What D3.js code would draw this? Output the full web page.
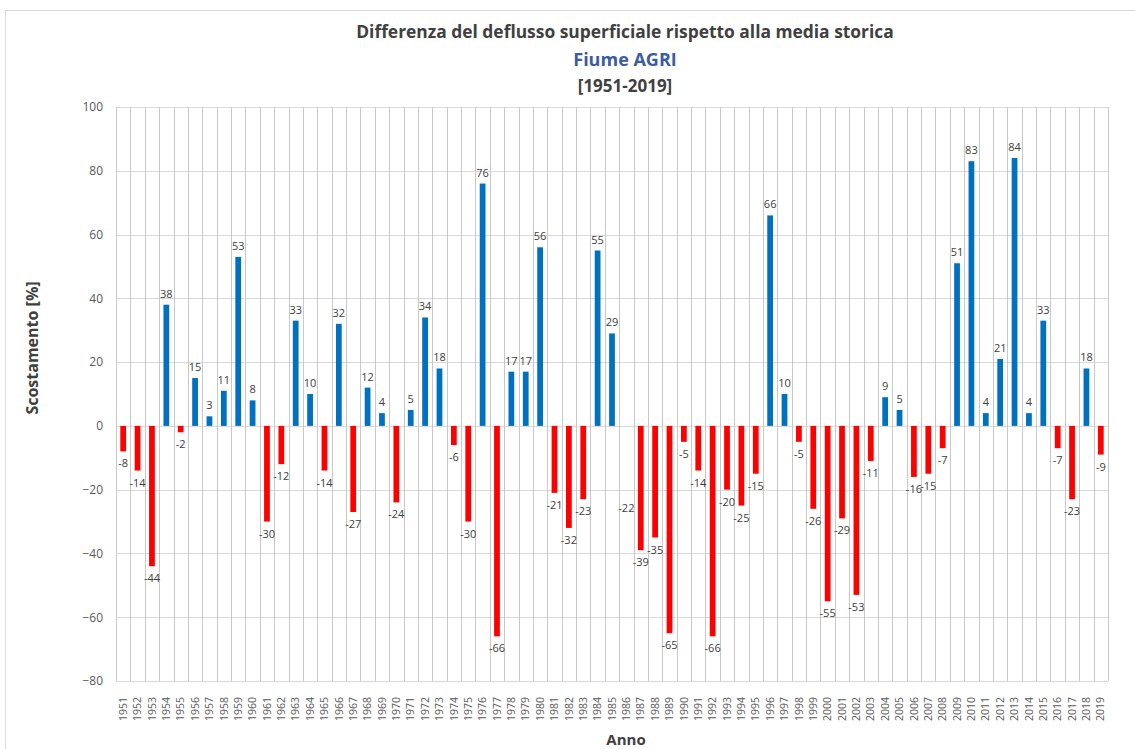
<!DOCTYPE html>
<html>
<head>
<meta charset="utf-8">
<script src="https://cdn.jsdelivr.net/npm/d3@7"></script>
<style>
  body { margin: 0; background: #fff; }
  svg { font-family: "Open Sans", "Liberation Sans", sans-serif; }
</style>
</head>
<body>
<figure id="deflusso" style="margin:0"></figure>
<script>
// years on the x axis
var years = d3.range(1951, 2020).map(String);

// scostamento [%] for each year
var values = [
  -8, -14, -44, 38, -2, 15, 3, 11, 53, 8,
  -30, -12, 33, 10, -14, 32, -27, 12, 4, -24,
  5, 34, 18, -6, -30, 76, -66, 17, 17, 56,
  -21, -32, -23, 55, 29, -22, -39, -35, -65, -5,
  -14, -66, -20, -25, -15, 66, 10, -5, -26, -55,
  -29, -53, -11, 9, 5, -16, -15, -7, 51, 83,
  4, 21, 84, 4, 33, -7, -23, 18, -9
];

// years where the original shows only the label, no bar
var noBar = ["1986"];

var yTicks = [-80, -60, -40, -20, 0, 20, 40, 60, 80, 100];

var titleLines = ["Differenza del deflusso superficiale rispetto alla media storica", "Fiume AGRI", "[1951-2019]"];

function chart() {
  var W = 1135, H = 749;
  var margin = {top: 107, right: 27, bottom: 68, left: 116},
      width = W - margin.left - margin.right,
      height = H - margin.top - margin.bottom;

  var root = d3.select("figure#deflusso")
    .append("svg")
    .attr("width", W)
    .attr("height", H);

  // outer chart border
  root.append("rect")
    .attr("x", 5.5).attr("y", 10.5)
    .attr("width", W + 10).attr("height", H + 10)
    .attr("fill", "none")
    .attr("stroke", "#d9d9d9");

  var svg = root.append("g")
    .attr("transform", "translate(" + margin.left + "," + margin.top + ")");

  var data = years.map(function(y, i) { return {year: y, value: values[i]}; });

  var x = d3.scaleBand()
    .domain(years)
    .range([0, width])
    .paddingInner(0.6)
    .paddingOuter(0.3);

  var y = d3.scaleLinear()
    .domain([d3.min(yTicks), d3.max(yTicks)])
    .range([height, 0]);

  var step = x.step();

  // horizontal gridlines
  svg.selectAll("line.hgrid")
    .data(yTicks)
    .enter()
    .append("line")
    .attr("class", "hgrid")
    .attr("x1", 0).attr("x2", width)
    .attr("y1", function(d) { return Math.round(y(d)) + 0.5; })
    .attr("y2", function(d) { return Math.round(y(d)) + 0.5; })
    .attr("stroke", "#d9d9d9");

  // vertical gridlines between categories
  var bounds = d3.range(years.length + 1);
  svg.selectAll("line.vgrid")
    .data(bounds)
    .enter()
    .append("line")
    .attr("class", "vgrid")
    .attr("x1", function(i) { return Math.round(i * step) + 0.5; })
    .attr("x2", function(i) { return Math.round(i * step) + 0.5; })
    .attr("y1", 0).attr("y2", height)
    .attr("stroke", "#c8c8c8");

  // bars
  svg.selectAll("rect.bar")
    .data(data)
    .enter()
    .append("rect")
    .attr("class", "bar")
    .attr("x", function(d) { return x(d.year); })
    .attr("width", x.bandwidth())
    .attr("y", function(d) { return y(Math.max(0, d.value)); })
    .attr("height", function(d) { return Math.abs(y(d.value) - y(0)); })
    .attr("fill", function(d) {
      if (noBar.indexOf(d.year) >= 0) return "none";
      return d.value >= 0 ? "#0070c0" : "#ff0000";
    });

  // value labels
  svg.selectAll("text.lbl")
    .data(data)
    .enter()
    .append("text")
    .attr("class", "lbl")
    .attr("x", function(d) { return x(d.year) + x.bandwidth() / 2; })
    .attr("y", function(d) { return d.value >= 0 ? y(d.value) - 7 : y(d.value) + 16; })
    .attr("text-anchor", "middle")
    .attr("font-size", 11)
    .attr("fill", "#404040")
    .text(function(d) { return d.value; });

  // y axis tick labels
  var yAxis = svg.append("g")
    .call(d3.axisLeft(y).tickValues(yTicks).tickSize(0).tickPadding(13));
  yAxis.select(".domain").remove();
  yAxis.selectAll("text")
    .attr("font-size", 12)
    .attr("fill", "#595959")
    .attr("font-family", "Open Sans, sans-serif");

  // x axis tick labels, rotated
  var xAxis = svg.append("g")
    .attr("transform", "translate(0," + height + ")")
    .call(d3.axisBottom(x).tickSize(0));
  xAxis.select(".domain").remove();
  xAxis.selectAll("text")
    .attr("font-size", 10.5)
    .attr("fill", "#595959")
    .attr("font-family", "Open Sans, sans-serif")
    .attr("text-anchor", "end")
    .attr("dy", "0.35em")
    .attr("transform", "translate(0,16) rotate(-90)")
    .attr("y", 0)
    .attr("x", 0);

  // titles
  root.append("text")
    .attr("x", 625).attr("y", 38)
    .attr("text-anchor", "middle")
    .attr("font-size", 17.4)
    .attr("font-weight", "bold")
    .attr("fill", "#404040")
    .text(titleLines[0]);
  root.append("text")
    .attr("x", 625).attr("y", 66)
    .attr("text-anchor", "middle")
    .attr("font-size", 18)
    .attr("font-weight", "bold")
    .attr("fill", "#3b5ba5")
    .text(titleLines[1]);
  root.append("text")
    .attr("x", 625).attr("y", 92)
    .attr("text-anchor", "middle")
    .attr("font-size", 17)
    .attr("font-weight", "bold")
    .attr("fill", "#404040")
    .text(titleLines[2]);

  // axis titles
  root.append("text")
    .attr("transform", "translate(38,348) rotate(-90)")
    .attr("text-anchor", "middle")
    .attr("font-size", 16)
    .attr("font-weight", "bold")
    .attr("fill", "#404040")
    .text("Scostamento [%]");
  root.append("text")
    .attr("x", 626).attr("y", 745)
    .attr("text-anchor", "middle")
    .attr("font-size", 15)
    .attr("font-weight", "bold")
    .attr("fill", "#404040")
    .text("Anno");
}

chart();
</script>
</body>
</html>
